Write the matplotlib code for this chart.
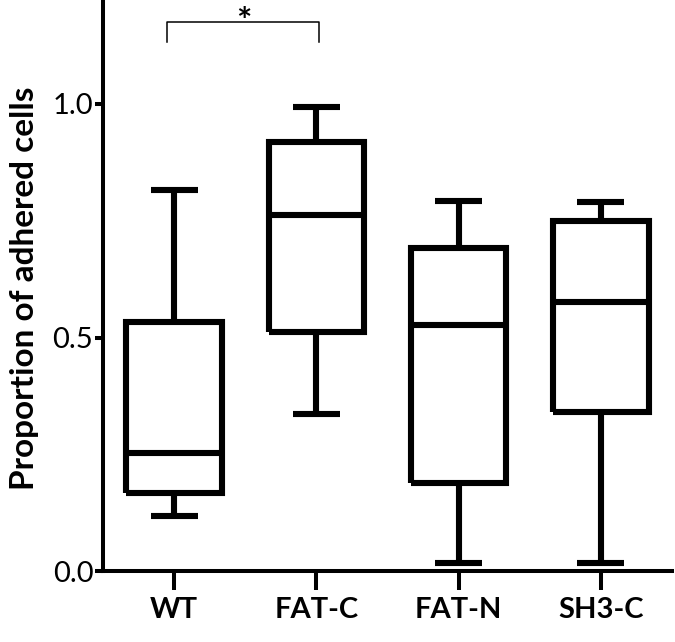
import numpy as np
import matplotlib
matplotlib.use('Agg')
import matplotlib.pyplot as plt

# values
groups = ['WT', 'FAT-C', 'FAT-N', 'SH3-C']
whislo = [0.118, 0.336, 0.018, 0.018]
q1 = [0.167, 0.512, 0.189, 0.341]
med = [0.253, 0.762, 0.527, 0.577]
q3 = [0.533, 0.919, 0.691, 0.749]
whishi = [0.816, 0.994, 0.792, 0.791]

plt.rcParams['font.family'] = ['Lato', 'DejaVu Sans']

fig = plt.figure(figsize=(6.75, 6.42), dpi=100)
ax = fig.add_axes([103/675, 1 - 571/642, 569/675, 571/642])

stats = []
for i in range(len(groups)):
    stats.append(dict(label=groups[i], whislo=whislo[i], q1=q1[i], med=med[i],
                      q3=q3[i], whishi=whishi[i], fliers=[]))

lw = 4.4
line = dict(color='black', linewidth=lw, solid_capstyle='butt', solid_joinstyle='miter')
ax.bxp(stats, positions=[1, 2, 3, 4], widths=0.67, capwidths=0.33,
       showfliers=False, boxprops=line, whiskerprops=line,
       capprops=line, medianprops=line)

ax.set_xlim(0.5, 4.5)
ax.set_ylim(0, 571/467)
ax.set_yticks([0.0, 0.5, 1.0])
ax.set_yticklabels(['0.0', '0.5', '1.0'], fontsize=21)
ax.set_xticks([1, 2, 3, 4])
ax.set_xticklabels(groups, fontsize=21, fontweight='bold')

for s in ['top', 'right']:
    ax.spines[s].set_visible(False)
for s in ['left', 'bottom']:
    ax.spines[s].set_linewidth(2.9)
ax.tick_params(axis='x', length=14, width=2.9, pad=5, direction='out')
ax.tick_params(axis='y', length=6, width=2.9, pad=1, direction='out')

# significance bracket WT vs FAT-C
ax.plot([0.95, 0.95, 2.02, 2.02], [1.133, 1.176, 1.176, 1.133],
        color='black', linewidth=1.1, clip_on=False)
ax.text(1.49, 1.152, '*', ha='center', va='baseline', fontsize=26,
        fontweight='bold', clip_on=False)

fig.text(25/675, 1 - 288/642, 'Proportion of adhered cells', rotation=90,
         ha='center', va='center', fontsize=24, fontweight='bold')

fig.savefig('out.png', dpi=100)
